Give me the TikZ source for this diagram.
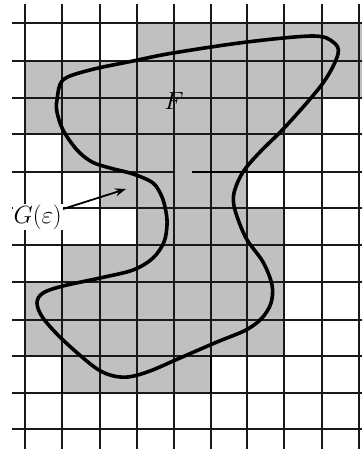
\documentclass[tikz,border=0pt]{standalone}
\usetikzlibrary{arrows.meta}
\definecolor{shade}{RGB}{192,192,192}
\definecolor{gridc}{RGB}{25,25,25}
\begin{document}
\begin{tikzpicture}[x=1pt,y=-1pt,
  cell/.style={fill=shade,draw=none},
  gridline/.style={line width=1.3pt,draw=gridc},
  edgeline/.style={line width=2.3pt,draw=black},
  contour/.style={line width=3.6pt,draw=black,line join=round},
  lbl/.style={inner sep=1pt}]
\useasboundingbox (0,0) rectangle (362,449);
% shaded cells, row by row
\fill[cell] (137,23) rectangle (362,61);
\fill[cell] (25,61) rectangle (362,98);
\fill[cell] (25,98) rectangle (322,134);
\fill[cell] (62,134) rectangle (284,172);
\fill[cell] (100,172) rectangle (247,208);
\fill[cell] (137,208) rectangle (284,245);
\fill[cell] (62,245) rectangle (284,282);
\fill[cell] (25,282) rectangle (284,356);
\fill[cell] (62,356) rectangle (211,393);
% grid
\foreach \x in {25,62,100,137,174,211,247,284,322,359}
  \draw[gridline] (\x,4) -- (\x,449);
\foreach \y in {23,61,98,134,208,245,282,320,356,393,429}
  \draw[gridline] (12,\y) -- (362,\y);
\draw[gridline] (12,172) -- (174,172);
\draw[gridline] (284,172) -- (362,172);
% darker boundary segments
\draw[edgeline] (192,172) -- (284,172);
\draw[edgeline] (62,245) -- (62,282);
\draw[edgeline] (62,356) -- (62,393);
\draw[edgeline] (211,356) -- (211,393);
% the contour
\draw[contour] plot[smooth cycle, tension=0.55] coordinates {
 (57,100) (63,80) (90,70) (133,61) (173,53) (247,42) (313,36) (333,42)
 (338,54) (323,83) (287,125) (260,152) (243,172) (234,193) (235,210)
 (246,238) (263,262) (272,285) (271,303) (262,318) (246,330) (217,342)
 (180,358) (150,371) (128,377) (110,375) (93,366) (63,340) (43,318)
 (37,303) (43,293) (63,286) (100,278) (133,270) (153,258) (164,242)
 (167,225) (166,212) (162,197) (153,183) (133,174) (110,168) (92,162)
 (77,150) (63,130) (57,112)};
% labels
\node[lbl,font=\fontsize{28}{28}\selectfont] (F) at (174,101) {$F$};
\node[lbl,fill=white,anchor=east,font=\fontsize{26}{26}\selectfont] (G) at (63,217) {$G(\varepsilon)$};
\coordinate (tip) at (126,189);
\draw[line width=1.8pt,-{Stealth[length=11pt,width=8pt]}] ([yshift=8pt]G.east) -- (tip);
\end{tikzpicture}
\end{document}
